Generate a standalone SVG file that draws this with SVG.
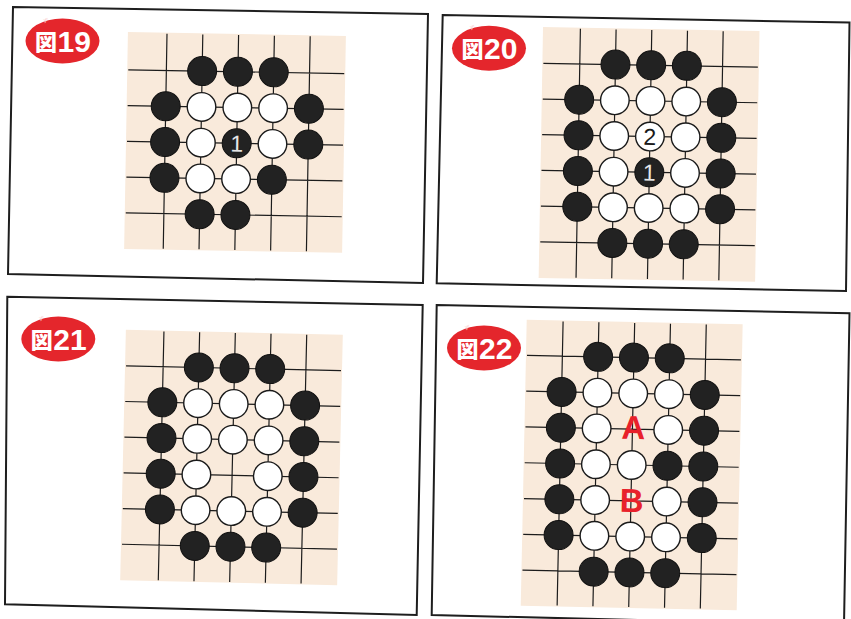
<svg xmlns="http://www.w3.org/2000/svg" width="851" height="619" viewBox="0 0 851 619">
<style>
.frame{fill:none;stroke:#1e1e1e;stroke-width:2}
.board{fill:#f9eadb}
.grid{fill:none;stroke:#1c1c1c;stroke-width:1.2}
.b{fill:#222222;stroke:#111111;stroke-width:1}
.w{fill:#ffffff;stroke:#1a1a1a;stroke-width:1.4}
.num{font-family:"Liberation Sans",Arial,sans-serif;font-size:23px;text-anchor:middle}
.ab{font-family:"Liberation Sans",Arial,sans-serif;font-size:33px;font-weight:bold;fill:#e8212b;text-anchor:middle}
.oval{fill:#e4262c}
.kan{font-family:"Noto Sans CJK JP","Noto Sans CJK SC",sans-serif;font-size:22px;font-weight:900;fill:#ffffff;text-anchor:middle}
.dig{font-family:"Liberation Sans",Arial,sans-serif;font-size:30px;font-weight:bold;fill:#ffffff}
.furi{font-family:"Noto Sans CJK JP","Noto Sans CJK SC",sans-serif;font-size:5px;fill:#f8c4c4;text-anchor:middle}
</style>
<rect width="851" height="619" fill="#ffffff"/>

<g id="connectors">
<polygon class="frame" points="13,7 428,14 423,283 8,274"/>
<polygon class="frame" points="442.7,15 849.5,22.5 846,291 436.7,283.3"/>
<polygon class="frame" points="7.3,296.7 422.7,305 416.7,615 5,604.3"/>
<polygon class="frame" points="436.7,305 849.5,313.3 844,625 431.7,615"/>
</g>

<g id="fig19" transform="rotate(1 236.7 143.3)">
<rect class="board" x="126" y="34" width="218" height="217"/>
<path class="grid" d="M165.1 35V250M200.9 35V250M236.7 35V250M272.5 35V250M308.3 35V250M127 71.7H343M127 107.5H343M127 143.3H343M127 179.1H343M127 214.9H343"/>
<g>
<circle class="b" cx="200.9" cy="71.7" r="14.5"/><circle class="b" cx="236.7" cy="71.7" r="14.5"/><circle class="b" cx="272.5" cy="71.7" r="14.5"/>
<circle class="b" cx="165.1" cy="107.5" r="14.5"/><circle class="w" cx="200.9" cy="107.5" r="14.3"/><circle class="w" cx="236.7" cy="107.5" r="14.3"/><circle class="w" cx="272.5" cy="107.5" r="14.3"/><circle class="b" cx="308.3" cy="107.5" r="14.5"/>
<circle class="b" cx="165.1" cy="143.3" r="14.5"/><circle class="w" cx="200.9" cy="143.3" r="14.3"/><circle class="b" cx="236.7" cy="143.3" r="14.5"/><circle class="w" cx="272.5" cy="143.3" r="14.3"/><circle class="b" cx="308.3" cy="143.3" r="14.5"/>
<circle class="b" cx="165.1" cy="179.1" r="14.5"/><circle class="w" cx="200.9" cy="179.1" r="14.3"/><circle class="w" cx="236.7" cy="179.1" r="14.3"/><circle class="b" cx="272.5" cy="179.1" r="14.5"/>
<circle class="b" cx="200.9" cy="214.9" r="14.5"/><circle class="b" cx="236.7" cy="214.9" r="14.5"/>
</g>
<text class="num" x="236.7" y="151.5" fill="#e6e6e6">1</text>
</g>
<g id="label19" transform="translate(62.5 41)">
<ellipse class="oval" rx="37" ry="22.5"/>
<text class="furi" x="-17" y="-19">ず</text>
<text class="kan" x="-16.5" y="8.5">図</text>
<text class="dig" x="-5" y="11">19</text>
</g>

<g id="fig20" transform="rotate(1 649.3 172.3)">
<rect class="board" x="540.5" y="29" width="216.5" height="251"/>
<path class="grid" d="M577.9 30V279M613.6 30V279M649.3 30V279M685 30V279M720.7 30V279M541.5 65.2H756M541.5 100.9H756M541.5 136.6H756M541.5 172.3H756M541.5 208H756M541.5 243.7H756"/>
<g>
<circle class="b" cx="613.6" cy="65.2" r="14.5"/><circle class="b" cx="649.3" cy="65.2" r="14.5"/><circle class="b" cx="685" cy="65.2" r="14.5"/>
<circle class="b" cx="577.9" cy="100.9" r="14.5"/><circle class="w" cx="613.6" cy="100.9" r="14.3"/><circle class="w" cx="649.3" cy="100.9" r="14.3"/><circle class="w" cx="685" cy="100.9" r="14.3"/><circle class="b" cx="720.7" cy="100.9" r="14.5"/>
<circle class="b" cx="577.9" cy="136.6" r="14.5"/><circle class="w" cx="613.6" cy="136.6" r="14.3"/><circle class="w" cx="649.3" cy="136.6" r="14.3"/><circle class="w" cx="685" cy="136.6" r="14.3"/><circle class="b" cx="720.7" cy="136.6" r="14.5"/>
<circle class="b" cx="577.9" cy="172.3" r="14.5"/><circle class="w" cx="613.6" cy="172.3" r="14.3"/><circle class="b" cx="649.3" cy="172.3" r="14.5"/><circle class="w" cx="685" cy="172.3" r="14.3"/><circle class="b" cx="720.7" cy="172.3" r="14.5"/>
<circle class="b" cx="577.9" cy="208" r="14.5"/><circle class="w" cx="613.6" cy="208" r="14.3"/><circle class="w" cx="649.3" cy="208" r="14.3"/><circle class="w" cx="685" cy="208" r="14.3"/><circle class="b" cx="720.7" cy="208" r="14.5"/>
<circle class="b" cx="613.6" cy="243.7" r="14.5"/><circle class="b" cx="649.3" cy="243.7" r="14.5"/><circle class="b" cx="685" cy="243.7" r="14.5"/>
</g>
<text class="num" x="649.3" y="144.8" fill="#1a1a1a">2</text>
<text class="num" x="649.3" y="180.5" fill="#e6e6e6">1</text>
</g>
<g id="label20" transform="translate(489 48.3)">
<ellipse class="oval" rx="37" ry="22.5"/>
<text class="furi" x="-17" y="-19">ず</text>
<text class="kan" x="-16.5" y="8.5">図</text>
<text class="dig" x="-5" y="11">20</text>
</g>

<g id="fig21" transform="rotate(1.3 232.5 457.5)">
<rect class="board" x="123" y="332.2" width="217" height="250.6"/>
<path class="grid" d="M161.1 333V582M196.8 333V582M232.5 333V582M268.2 333V582M303.9 333V582M124 368.25H339M124 403.95H339M124 439.65H339M124 475.35H339M124 511.05H339M124 546.75H339"/>
<g>
<circle class="b" cx="196.8" cy="368.25" r="14.5"/><circle class="b" cx="232.5" cy="368.25" r="14.5"/><circle class="b" cx="268.2" cy="368.25" r="14.5"/>
<circle class="b" cx="161.1" cy="403.95" r="14.5"/><circle class="w" cx="196.8" cy="403.95" r="14.3"/><circle class="w" cx="232.5" cy="403.95" r="14.3"/><circle class="w" cx="268.2" cy="403.95" r="14.3"/><circle class="b" cx="303.9" cy="403.95" r="14.5"/>
<circle class="b" cx="161.1" cy="439.65" r="14.5"/><circle class="w" cx="196.8" cy="439.65" r="14.3"/><circle class="w" cx="232.5" cy="439.65" r="14.3"/><circle class="w" cx="268.2" cy="439.65" r="14.3"/><circle class="b" cx="303.9" cy="439.65" r="14.5"/>
<circle class="b" cx="161.1" cy="475.35" r="14.5"/><circle class="w" cx="196.8" cy="475.35" r="14.3"/><circle class="w" cx="268.2" cy="475.35" r="14.3"/><circle class="b" cx="303.9" cy="475.35" r="14.5"/>
<circle class="b" cx="161.1" cy="511.05" r="14.5"/><circle class="w" cx="196.8" cy="511.05" r="14.3"/><circle class="w" cx="232.5" cy="511.05" r="14.3"/><circle class="w" cx="268.2" cy="511.05" r="14.3"/><circle class="b" cx="303.9" cy="511.05" r="14.5"/>
<circle class="b" cx="196.8" cy="546.75" r="14.5"/><circle class="b" cx="232.5" cy="546.75" r="14.5"/><circle class="b" cx="268.2" cy="546.75" r="14.5"/>
</g>
</g>
<g id="label21" transform="translate(58.3 339)">
<ellipse class="oval" rx="37" ry="22.5"/>
<text class="furi" x="-17" y="-19">ず</text>
<text class="kan" x="-16.5" y="8.5">図</text>
<text class="dig" x="-5" y="11">21</text>
</g>

<g id="fig22" transform="rotate(1.2 631.7 465)">
<rect class="board" x="523.7" y="322" width="216" height="286"/>
<path class="grid" d="M560.1 323V607M595.9 323V607M631.7 323V607M667.5 323V607M703.3 323V607M524.7 357.6H738.7M524.7 393.4H738.7M524.7 429.2H738.7M524.7 465H738.7M524.7 500.8H738.7M524.7 536.6H738.7M524.7 572.4H738.7"/>
<g>
<circle class="b" cx="595.9" cy="357.6" r="14.5"/><circle class="b" cx="631.7" cy="357.6" r="14.5"/><circle class="b" cx="667.5" cy="357.6" r="14.5"/>
<circle class="b" cx="560.1" cy="393.4" r="14.5"/><circle class="w" cx="595.9" cy="393.4" r="14.3"/><circle class="w" cx="631.7" cy="393.4" r="14.3"/><circle class="w" cx="667.5" cy="393.4" r="14.3"/><circle class="b" cx="703.3" cy="393.4" r="14.5"/>
<circle class="b" cx="560.1" cy="429.2" r="14.5"/><circle class="w" cx="595.9" cy="429.2" r="14.3"/><circle class="w" cx="667.5" cy="429.2" r="14.3"/><circle class="b" cx="703.3" cy="429.2" r="14.5"/>
<circle class="b" cx="560.1" cy="465" r="14.5"/><circle class="w" cx="595.9" cy="465" r="14.3"/><circle class="w" cx="631.7" cy="465" r="14.3"/><circle class="b" cx="667.5" cy="465" r="14.5"/><circle class="b" cx="703.3" cy="465" r="14.5"/>
<circle class="b" cx="560.1" cy="500.8" r="14.5"/><circle class="w" cx="595.9" cy="500.8" r="14.3"/><circle class="w" cx="667.5" cy="500.8" r="14.3"/><circle class="b" cx="703.3" cy="500.8" r="14.5"/>
<circle class="b" cx="560.1" cy="536.6" r="14.5"/><circle class="w" cx="595.9" cy="536.6" r="14.3"/><circle class="w" cx="631.7" cy="536.6" r="14.3"/><circle class="w" cx="667.5" cy="536.6" r="14.3"/><circle class="b" cx="703.3" cy="536.6" r="14.5"/>
<circle class="b" cx="595.9" cy="572.4" r="14.5"/><circle class="b" cx="631.7" cy="572.4" r="14.5"/><circle class="b" cx="667.5" cy="572.4" r="14.5"/>
</g>
<text class="ab" x="632.5" y="439">A</text>
<text class="ab" x="632.5" y="512">B</text>
</g>
<g id="label22" transform="translate(484 348)">
<ellipse class="oval" rx="37" ry="22.5"/>
<text class="furi" x="-17" y="-19">ず</text>
<text class="kan" x="-16.5" y="8.5">図</text>
<text class="dig" x="-5" y="11">22</text>
</g>
</svg>
